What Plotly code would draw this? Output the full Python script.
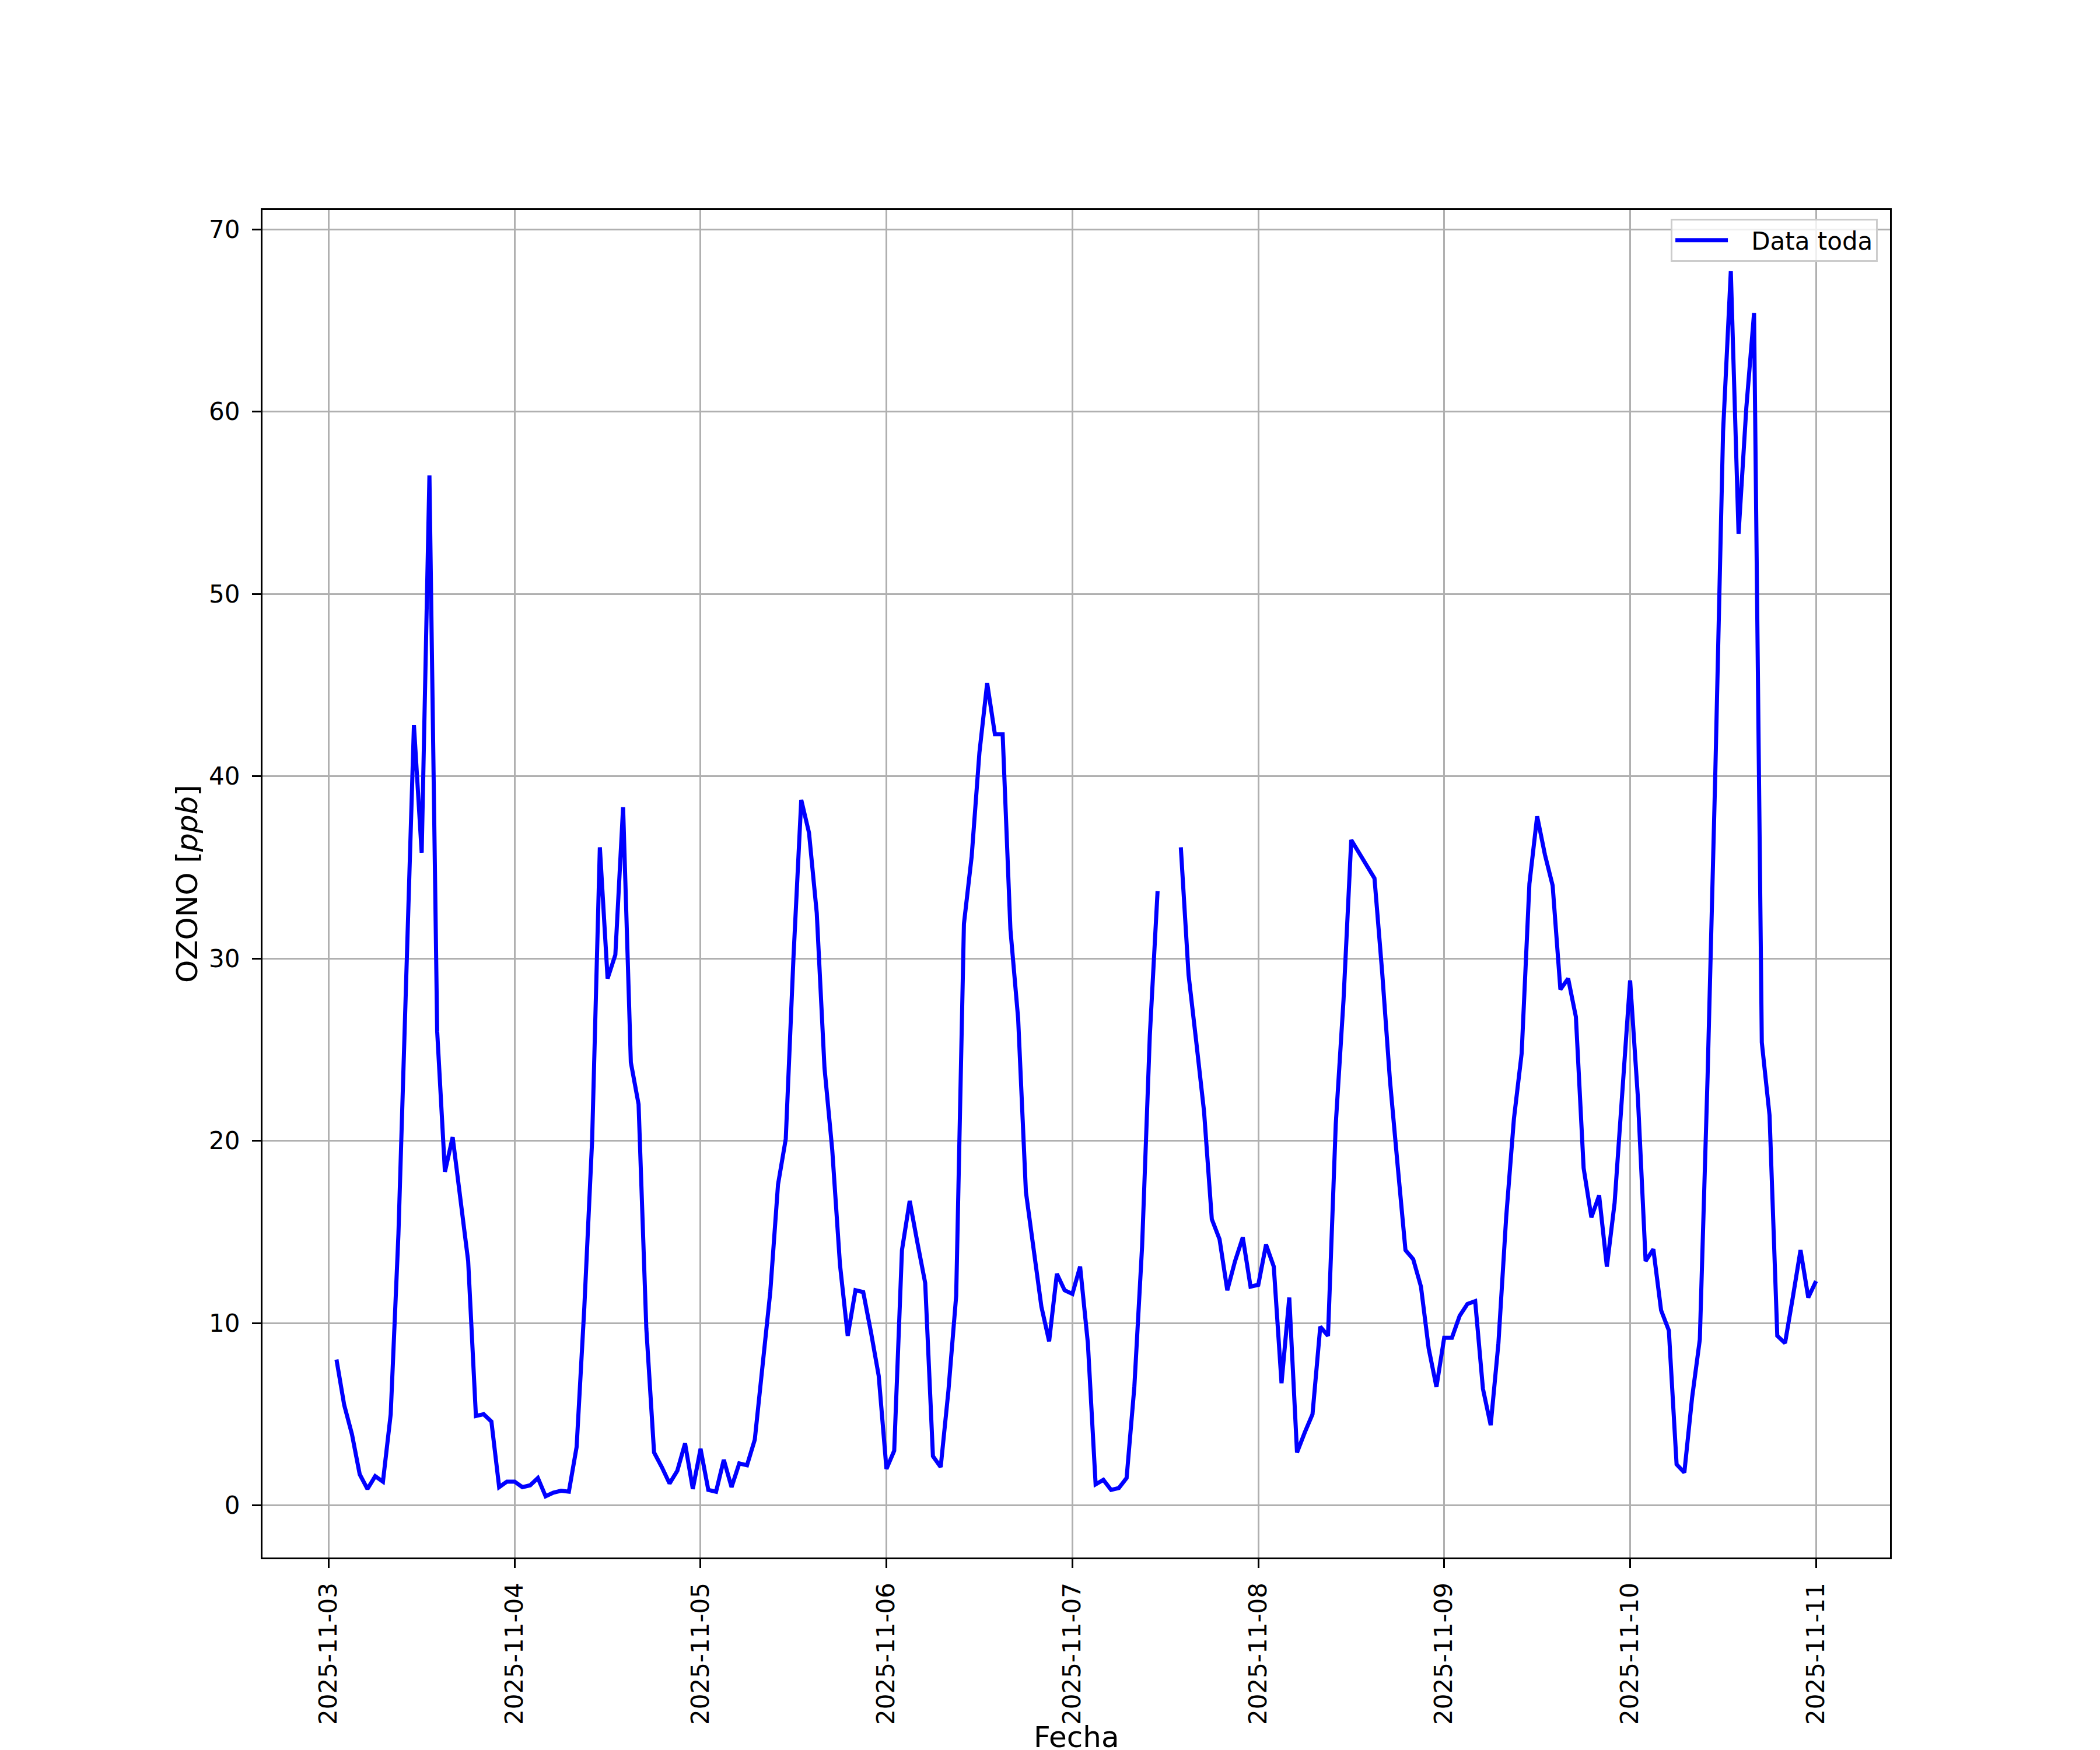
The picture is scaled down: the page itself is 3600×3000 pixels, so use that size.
import pandas as pd
import numpy as np
import plotly.graph_objects as go

# Hourly ozone values (ppb); first value is 2025-11-03 01:00
start_time = "2025-11-03 01:00"
nov03 = [8.0, 5.5, 3.9, 1.7, 0.9, 1.6, 1.3, 5.0, 14.9, 28.0, 42.8, 35.8, 56.5, 26.0,
         18.3, 20.2, 16.8, 13.4, 4.9, 5.0, 4.6, 1.0, 1.3]
nov04 = [1.3, 1.0, 1.1, 1.5, 0.5, 0.7, 0.8, 0.75, 3.2, 10.9, 20.0, 36.1, 28.9, 30.2,
         38.3, 24.3, 22.0, 9.7, 2.9, 2.1, 1.2, 1.9, 3.4, 0.9]
nov05 = [3.1, 0.85, 0.75, 2.5, 1.0, 2.3, 2.2, 3.6, 7.6, 11.7, 17.6, 20.1, 30.1, 38.7,
         36.9, 32.5, 24.0, 19.5, 13.2, 9.3, 11.8, 11.7, 9.5, 7.1]
nov06 = [2.0, 3.0, 14.0, 16.7, 14.4, 12.2, 2.7, 2.1, 6.3, 11.5, 31.9, 35.6, 41.3, 45.1,
         42.3, 42.3, 31.6, 26.7, 17.2, 14.0, 10.9, 9.0, 12.7, 11.8]
nov07 = [11.6, 13.1, 8.9, 1.15, 1.4, 0.85, 0.95, 1.5, 6.5, 14.2, 25.8, 33.7, None, None,
         36.1, 29.1, 25.4, 21.6, 15.7, 14.6, 11.8, 13.4, 14.7, 12.0]
nov08 = [12.1, 14.3, 13.1, 6.7, 11.4, 2.9, 4.0, 5.0, 9.8, 9.3, 20.9, 27.7, 36.5, 35.8,
         35.2, 34.4, 29.2, 23.3, 18.6, 14.0, 13.5, 12.0, 8.6, 6.5]
nov09 = [9.2, 9.2, 10.4, 11.05, 11.2, 6.4, 4.4, 8.9, 15.8, 21.2, 24.8, 34.1, 37.8, 35.7,
         34.0, 28.3, 28.9, 26.8, 18.5, 15.8, 17.0, 13.1, 16.6, 22.7]
nov10 = [28.8, 22.4, 13.4, 14.05, 10.7, 9.6, 2.25, 1.8, 5.9, 9.1, 23.5, 40.2, 58.9, 67.7,
         53.3, 60.2, 65.4, 25.4, 21.4, 9.3, 8.9, 11.4, 14.0, 11.4]
nov11 = [12.3]

tick_dates = ["2025-11-03", "2025-11-04", "2025-11-05", "2025-11-06", "2025-11-07",
              "2025-11-08", "2025-11-09", "2025-11-10", "2025-11-11"]
y_ticks = [0, 10, 20, 30, 40, 50, 60, 70]

values = nov03 + nov04 + nov05 + nov06 + nov07 + nov08 + nov09 + nov10 + nov11
times = pd.date_range(start_time, periods=len(values), freq="h")
vals = np.array([np.nan if v is None else v for v in values], dtype=float)

# matplotlib-like 5% margins
t0, t1 = times[0], times[-1]
span = t1 - t0
xr = [t0 - span * 0.05, t1 + span * 0.05]
vmin, vmax = np.nanmin(vals), np.nanmax(vals)
vs = vmax - vmin
yr = [vmin - 0.05 * vs, vmax + 0.05 * vs]

FONT = "DejaVu Sans"
LW = 3.3

fig = go.Figure()
fig.add_trace(go.Scatter(
    x=times, y=vals, mode="lines", name="\u00a0\u00a0\u2009Data toda",
    line=dict(color="#0000ff", width=7), connectgaps=False,
))

fig.update_layout(
    width=3600, height=3000,
    margin=dict(l=442, r=368, t=352, b=338, autoexpand=False),
    paper_bgcolor="white", plot_bgcolor="white",
    font=dict(family=FONT, size=42, color="black"),
    showlegend=True,
    legend=dict(
        x=0.9925, y=0.9935, xanchor="right", yanchor="top",
        bgcolor="rgba(255,255,255,0.8)", bordercolor="#cccccc", borderwidth=3,
        font=dict(family=FONT, size=42, color="black"),
        itemwidth=90,
    ),
)

fig.update_xaxes(
    range=xr, type="date",
    tickvals=pd.to_datetime(tick_dates), ticktext=tick_dates,
    tickangle=-90,
    tickfont=dict(family=FONT, size=42, color="black"),
    ticks="outside", ticklen=15, tickwidth=LW, tickcolor="black",
    ticklabelstandoff=8,
    showline=True, linecolor="black", linewidth=LW, mirror=True,
    showgrid=True, gridcolor="#b0b0b0", gridwidth=LW,
    zeroline=False,
    automargin=False,
)
fig.update_yaxes(
    range=yr,
    tickvals=y_ticks, ticktext=[str(v) for v in y_ticks],
    tickfont=dict(family=FONT, size=42, color="black"),
    ticks="outside", ticklen=15, tickwidth=LW, tickcolor="black",
    ticklabelstandoff=12,
    showline=True, linecolor="black", linewidth=LW, mirror=True,
    showgrid=True, gridcolor="#b0b0b0", gridwidth=LW,
    zeroline=False,
    automargin=False,
)

# Axis titles
fig.add_annotation(
    text="Fecha", xref="paper", yref="paper", x=0.5, y=-0.1333,
    xanchor="center", yanchor="middle", showarrow=False,
    font=dict(family=FONT, size=50, color="black"),
)
fig.add_annotation(
    text="OZONO [<i>ppb</i>]", xref="paper", yref="paper", x=-0.0462, y=0.5,
    xanchor="center", yanchor="middle", textangle=-90, showarrow=False,
    font=dict(family=FONT, size=50, color="black"),
)

fig.write_html("out.html")
